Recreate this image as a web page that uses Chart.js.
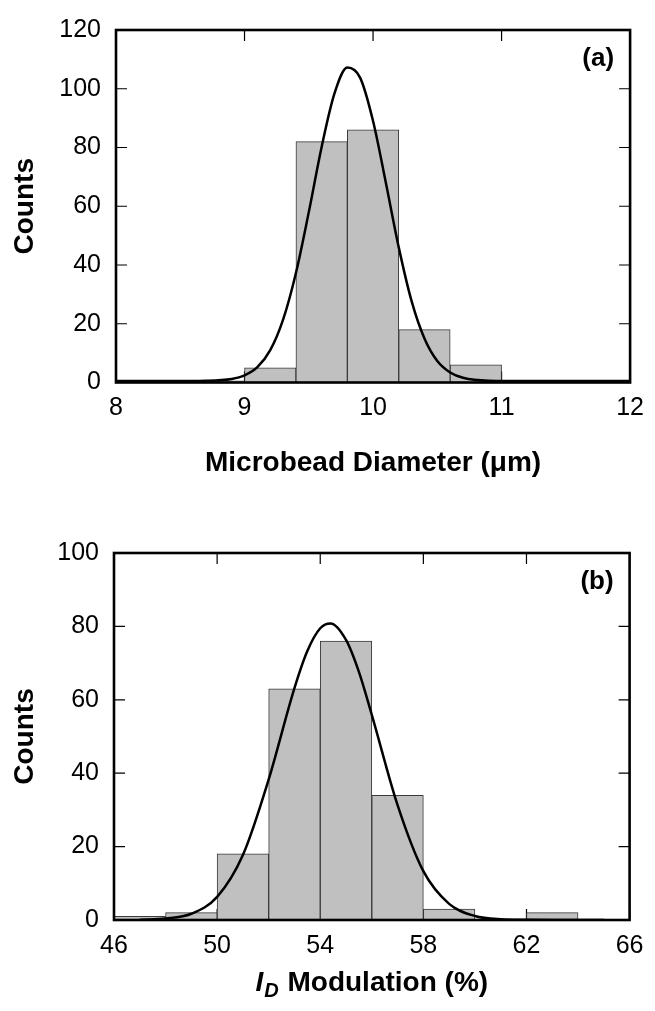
<!DOCTYPE html>
<html>
<head>
<meta charset="utf-8">
<script src="https://cdn.jsdelivr.net/npm/chart.js@4"></script>
<style>
  body { margin: 0; background: #fff; }
  canvas { position: absolute; left: 0; }
</style>
</head>
<body>
<canvas id="chartA" width="655" height="500" style="top:0px"></canvas>
<canvas id="chartB" width="655" height="511" style="top:500px"></canvas>
<script>
// (a) microbead diameter histogram, 0.4 um bins (bin centres)
const binsA = [8.0, 8.4, 8.8, 9.2, 9.6, 10.0, 10.4, 10.8, 11.2, 11.6, 12.0];
const countsA = [0.6, 0.6, 0.6, 5, 82, 86, 18, 6, 0.6, 0.6, 0.6];
// fitted curve
const fitAx = [8.0, 8.4, 8.7, 8.9, 9.0, 9.1, 9.2, 9.3, 9.4, 9.5, 9.6, 9.7, 9.8, 9.9, 10.0, 10.1, 10.2, 10.3, 10.4, 10.5, 10.6, 10.7, 10.9, 11.2, 11.6, 12.0];
const fitAy = [0.5, 0.5, 0.6, 1.2, 2.4, 5.2, 11, 21.4, 37.3, 58, 80.2, 98.4, 107.2, 103.7, 89, 67.9, 46, 27.7, 15, 7.3, 3.4, 1.6, 0.6, 0.5, 0.5, 0.5];
const xTicksA = [8, 9, 10, 11, 12];
const yTicksA = [0, 20, 40, 60, 80, 100, 120];

// (b) I_D modulation histogram, 2 % bins (bin centres)
const binsB = [47, 49, 51, 53, 55, 57, 59, 61, 63, 65];
const countsB = [1, 2, 18, 63, 76, 34, 3, 0, 2, 0];
const fitBx = [47, 48, 49, 50, 51, 52, 53, 53.5, 54, 54.4, 55, 55.5, 56, 57, 58, 59, 60, 61, 62, 63, 65];
const fitBy = [0.1, 0.4, 1.7, 6.3, 17.7, 38.3, 63.2, 73.3, 79.5, 80.8, 76.3, 67.6, 55.9, 31.3, 13.3, 4.4, 1.1, 0.2, 0.05, 0, 0];
const xTicksB = [46, 50, 54, 58, 62, 66];
const yTicksB = [0, 20, 40, 60, 80, 100];

const FONT = "'Liberation Sans', Arial, sans-serif";
Chart.defaults.font.family = FONT;
Chart.defaults.color = '#000';

// inward ticks on all four sides, frame and panel letter
const framePlugin = {
    id: 'frame',
    beforeDatasetsDraw(chart) {
        const { ctx, chartArea: a, scales: { x, y } } = chart;
        ctx.save();
        ctx.strokeStyle = '#000';
        ctx.lineWidth = 1.2;
        ctx.beginPath();
        x.ticks.forEach(t => {
            const px = x.getPixelForValue(t.value);
            ctx.moveTo(px, a.bottom); ctx.lineTo(px, a.bottom - 11);
            ctx.moveTo(px, a.top); ctx.lineTo(px, a.top + 11);
        });
        y.ticks.forEach(t => {
            const py = y.getPixelForValue(t.value);
            ctx.moveTo(a.left, py); ctx.lineTo(a.left + 11, py);
            ctx.moveTo(a.right, py); ctx.lineTo(a.right - 11, py);
        });
        ctx.stroke();
        ctx.restore();
    },
    afterDatasetsDraw(chart, args, opts) {
        const { ctx, chartArea: a } = chart;
        ctx.save();
        ctx.strokeStyle = '#000';
        ctx.lineWidth = 2.6;
        ctx.strokeRect(a.left, a.top, a.right - a.left, a.bottom - a.top);
        ctx.fillStyle = '#000';
        ctx.font = 'bold 26px ' + FONT;
        ctx.textAlign = 'right';
        ctx.textBaseline = 'middle';
        ctx.fillText(opts.label, a.right - 16, a.top + 29);
        ctx.restore();
    }
};

// x title of (b): italic I with subscript D
const subTitlePlugin = {
    id: 'subTitle',
    afterDraw(chart) {
        const { ctx, chartArea: a } = chart;
        const cy = 483;
        const big = 'bold 28px ' + FONT;
        const bigIt = 'italic bold 28px ' + FONT;
        const small = 'italic bold 20px ' + FONT;
        ctx.save();
        ctx.fillStyle = '#000';
        ctx.textBaseline = 'middle';
        ctx.textAlign = 'left';
        ctx.font = bigIt; const wI = ctx.measureText('I').width;
        ctx.font = small; const wD = ctx.measureText('D').width;
        ctx.font = big; const wRest = ctx.measureText(' Modulation (%)').width;
        let x0 = (a.left + a.right) / 2 - (wI + wD + 2 + wRest) / 2;
        ctx.font = bigIt; ctx.fillText('I', x0, cy); x0 += wI + 1;
        ctx.font = small; ctx.fillText('D', x0, cy + 8); x0 += wD + 1;
        ctx.font = big; ctx.fillText(' Modulation (%)', x0, cy);
        ctx.restore();
    }
};

function makeHistogram(canvasId, cfg) {
    const ctx = document.getElementById(canvasId).getContext('2d');
    return new Chart(ctx, {
        type: 'bar',
        data: {
            datasets: [{
                type: 'line',
                order: 0,
                data: cfg.fitX.map((v, i) => ({ x: v, y: cfg.fitY[i] })),
                borderColor: '#000',
                borderWidth: 2.5,
                pointRadius: 0,
                fill: false,
                cubicInterpolationMode: 'monotone',
                clip: 0
            }, {
                type: 'bar',
                order: 1,
                data: cfg.bins.map((v, i) => ({ x: v, y: cfg.counts[i] })),
                backgroundColor: '#c0c0c0',
                borderColor: '#3a3a3a',
                borderWidth: 1,
                barPercentage: 1,
                categoryPercentage: 1,
                clip: 0
            }]
        },
        options: {
            responsive: false,
            animation: false,
            devicePixelRatio: 1,
            layout: { padding: cfg.padding },
            plugins: {
                legend: { display: false },
                tooltip: { enabled: false },
                frame: { label: cfg.label }
            },
            scales: {
                x: {
                    type: 'linear',
                    offset: false,
                    min: cfg.xTicks[0],
                    max: cfg.xTicks[cfg.xTicks.length - 1],
                    grid: { display: false, drawTicks: false },
                    border: { display: false },
                    afterBuildTicks: s => { s.ticks = cfg.xTicks.map(v => ({ value: v })); },
                    afterFit: s => { s.height = cfg.xHeight; },
                    ticks: { autoSkip: false, maxRotation: 0, padding: cfg.xPad, font: { size: 25 } },
                    title: {
                        display: cfg.xTitle !== null,
                        text: cfg.xTitle || '',
                        font: { size: 28, weight: 'bold' },
                        padding: { top: 0, bottom: 0 }
                    }
                },
                y: {
                    min: cfg.yTicks[0],
                    max: cfg.yTicks[cfg.yTicks.length - 1],
                    grid: { display: false, drawTicks: false },
                    border: { display: false },
                    afterBuildTicks: s => { s.ticks = cfg.yTicks.map(v => ({ value: v })); },
                    afterFit: s => { s.width = cfg.yWidth; },
                    ticks: { padding: 15, font: { size: 25 } },
                    title: {
                        display: true,
                        text: 'Counts',
                        font: { size: 28, weight: 'bold' },
                        padding: { top: 8, bottom: 0 }
                    }
                }
            }
        },
        plugins: cfg.extra ? [framePlugin, cfg.extra] : [framePlugin]
    });
}

makeHistogram('chartA', {
    bins: binsA, counts: countsA, fitX: fitAx, fitY: fitAy,
    xTicks: xTicksA, yTicks: yTicksA,
    xTitle: 'Microbead Diameter (\u03bcm)', label: '(a)',
    padding: { top: 18, right: 17, left: 0, bottom: 20 },
    yWidth: 116, xHeight: 97.5, xPad: 11
});

makeHistogram('chartB', {
    bins: binsB, counts: countsB, fitX: fitBx, fitY: fitBy,
    xTicks: xTicksB, yTicks: yTicksB,
    xTitle: null, label: '(b)',
    padding: { top: 53, right: 17.5, left: 0, bottom: 11 },
    yWidth: 114, xHeight: 80, xPad: 11.5,
    extra: subTitlePlugin
});
</script>
</body>
</html>
